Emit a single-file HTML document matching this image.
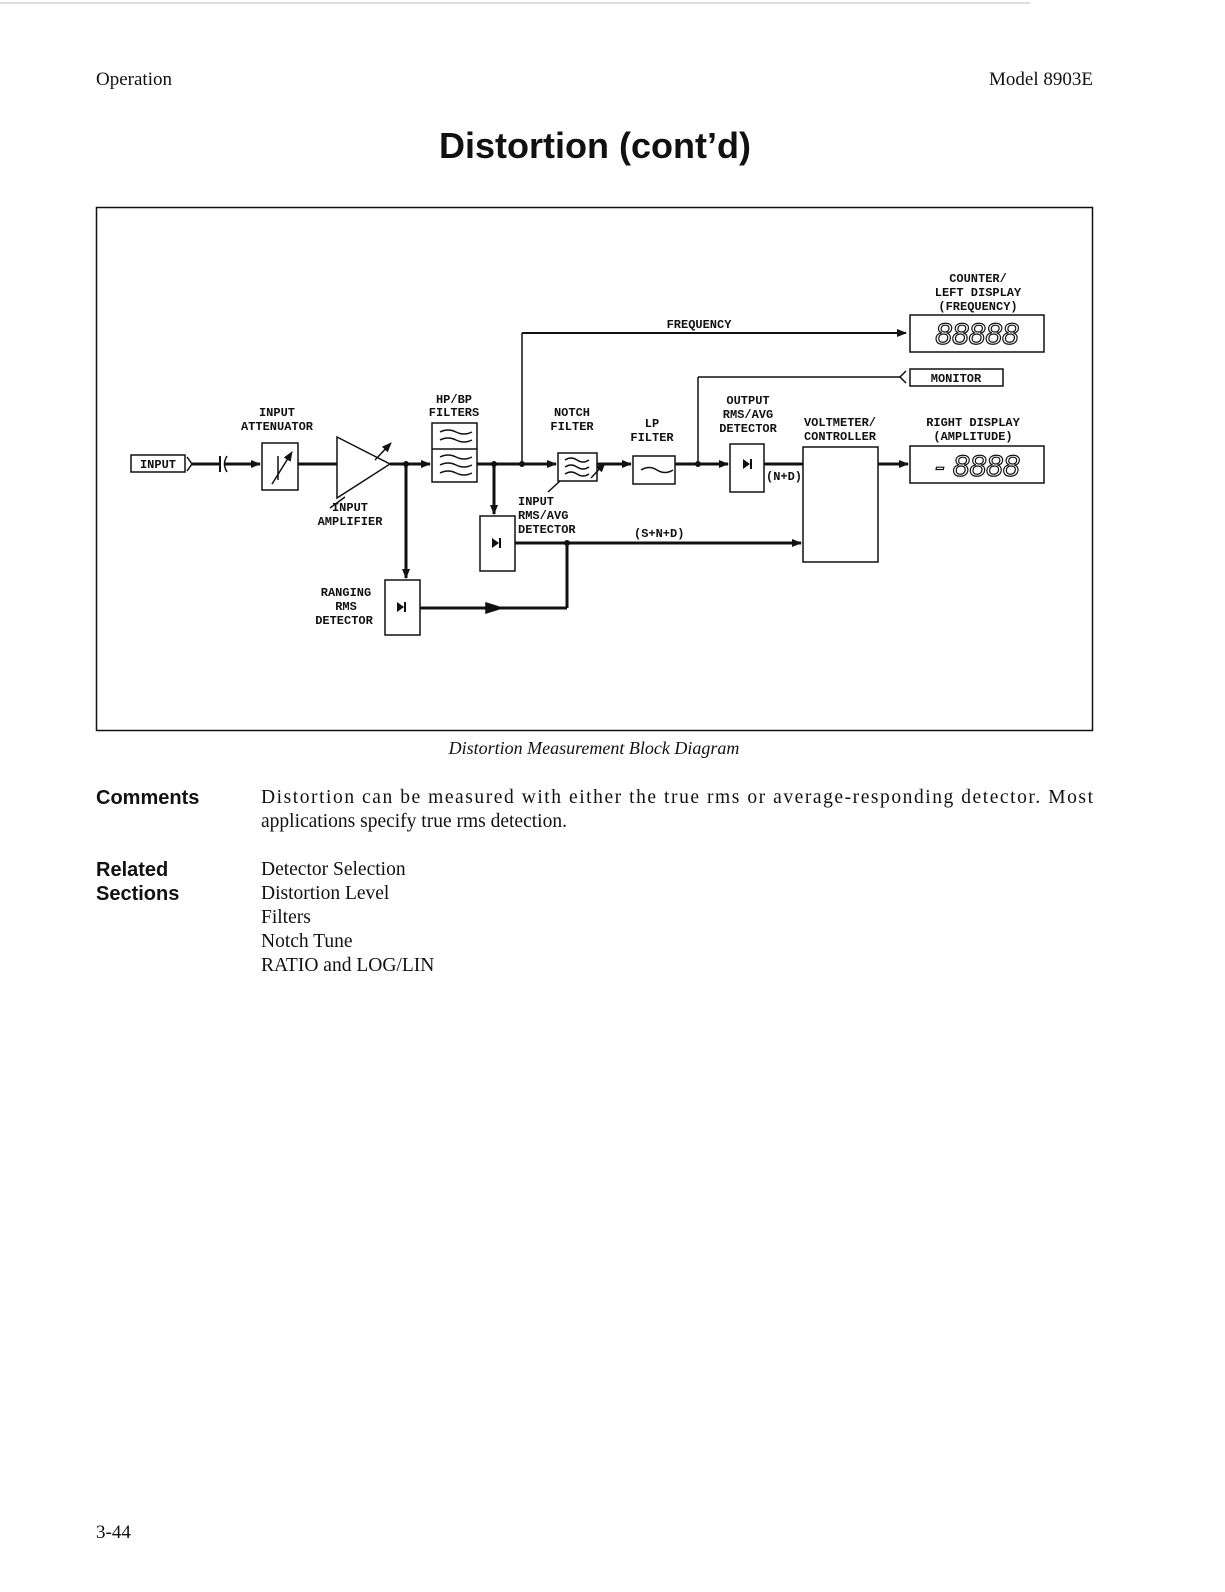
<!DOCTYPE html>
<html><head><meta charset="utf-8"><style>
html,body{margin:0;padding:0;background:#fff;overflow:hidden;width:1225px;height:1592px}
svg{display:block}
.s{font-family:"Liberation Serif",serif;fill:#111}
.d{font-family:"Liberation Mono",monospace;font-weight:bold;font-size:12px;fill:#111}
.b{font-family:"Liberation Sans",sans-serif;font-weight:bold;fill:#111}
</style></head><body>
<svg width="1225" height="1592" viewBox="0 0 1225 1592" xmlns="http://www.w3.org/2000/svg">
<defs><marker id="a" markerWidth="10" markerHeight="8" refX="9" refY="4" orient="auto" markerUnits="userSpaceOnUse"><path d="M0,0 L10,4 L0,8 Z" fill="#111"/></marker></defs>
<line x1="0" y1="3" x2="1030" y2="3" stroke="#bbb" stroke-width="1"/>
<text class="s" x="96" y="85" font-size="19">Operation</text>
<text class="s" x="1093" y="85" font-size="19" text-anchor="end">Model 8903E</text>
<text class="b" x="595" y="158" font-size="36" text-anchor="middle">Distortion (cont’d)</text>
<rect x="96.5" y="207.5" width="996" height="523" fill="none" stroke="#111" stroke-width="1.5"/>
<g stroke="#111" fill="none" stroke-width="1.5">
<rect x="131" y="455" width="54" height="17"/>
<path d="M187,457 L192,464 L187,471"/>
<line x1="192" y1="464" x2="220" y2="464" stroke-width="3"/>
<line x1="220" y1="456" x2="220" y2="472" stroke-width="2"/>
<path d="M227,456 Q222,464 227,472"/>
<line x1="224" y1="464" x2="260" y2="464" stroke-width="3" marker-end="url(#a)"/>
<rect x="262" y="443" width="36" height="47"/>
<line x1="272" y1="484" x2="292" y2="452" marker-end="url(#a)"/>
<line x1="278" y1="456" x2="278" y2="480"/>
<line x1="298" y1="464" x2="337" y2="464" stroke-width="3"/>
<path d="M337,437 L390,464 L337,498 Z"/>
<line x1="375" y1="460" x2="391" y2="443" marker-end="url(#a)"/>
<line x1="330" y1="508" x2="345" y2="497"/>
<line x1="390" y1="464" x2="430" y2="464" stroke-width="3" marker-end="url(#a)"/>
<line x1="406" y1="464" x2="406" y2="578" stroke-width="3" marker-end="url(#a)"/>
<rect x="385" y="580" width="35" height="55"/>
<rect x="432" y="423" width="45" height="59"/>
<line x1="432" y1="449" x2="477" y2="449"/>
<path d="M440,432 q8,-4 16,0 t16,0 M440,440 q8,-4 16,0 t16,0 M440,457 q8,-4 16,0 t16,0 M440,465 q8,-4 16,0 t16,0 M440,473 q8,-4 16,0 t16,0"/>
<line x1="477" y1="464" x2="556" y2="464" stroke-width="3" marker-end="url(#a)"/>
<line x1="494" y1="464" x2="494" y2="514" stroke-width="3" marker-end="url(#a)"/>
<rect x="480" y="516" width="35" height="55"/>
<line x1="522" y1="464" x2="522" y2="333"/>
<line x1="522" y1="333" x2="906" y2="333" stroke-width="2" marker-end="url(#a)"/>
<rect x="558" y="453" width="39" height="28"/>
<path d="M565,460 q6,-4 12,0 t12,0 M565,467 q6,-4 12,0 t12,0 M565,474 q6,-4 12,0 t12,0"/>
<line x1="591" y1="478" x2="605" y2="463" marker-end="url(#a)"/>
<line x1="548" y1="492" x2="560" y2="481"/>
<line x1="597" y1="464" x2="631" y2="464" stroke-width="3" marker-end="url(#a)"/>
<rect x="633" y="456" width="42" height="28"/>
<path d="M641,470 q8,-5 16,0 t16,0"/>
<line x1="675" y1="464" x2="728" y2="464" stroke-width="3" marker-end="url(#a)"/>
<line x1="698" y1="464" x2="698" y2="377"/>
<line x1="698" y1="377" x2="900" y2="377"/>
<path d="M906,371 L900,377 L906,383"/>
<rect x="910" y="369" width="93" height="17"/>
<rect x="730" y="444" width="34" height="48"/>
<line x1="764" y1="464" x2="803" y2="464" stroke-width="3"/>
<rect x="803" y="447" width="75" height="115"/>
<line x1="878" y1="464" x2="908" y2="464" stroke-width="3" marker-end="url(#a)"/>
<rect x="910" y="446" width="134" height="37"/>
<rect x="910" y="315" width="134" height="37"/>
<line x1="515" y1="543" x2="801" y2="543" stroke-width="3" marker-end="url(#a)"/>
<line x1="567" y1="543" x2="567" y2="608" stroke-width="3"/>
<line x1="420" y1="608" x2="567" y2="608" stroke-width="3"/>
<path d="M486,603 L502,608 L486,613 Z" fill="#111"/>
</g>
<g fill="#111">
<circle cx="406" cy="464" r="3"/><circle cx="494" cy="464" r="3"/><circle cx="522" cy="464" r="3"/><circle cx="698" cy="464" r="3"/><circle cx="567" cy="543" r="3"/>
<path d="M743,459 L743,469 L750,464 Z"/><rect x="750" y="459" width="2" height="10"/>
<path d="M492,538 L492,548 L499,543 Z"/><rect x="499" y="538" width="2" height="10"/>
<path d="M397,602 L397,612 L404,607 Z"/><rect x="404" y="602" width="2" height="10"/>
</g>
<g class="d">
<text x="158" y="468" text-anchor="middle">INPUT</text>
<text x="277" y="416" text-anchor="middle">INPUT</text>
<text x="277" y="430" text-anchor="middle">ATTENUATOR</text>
<text x="350" y="511" text-anchor="middle">INPUT</text>
<text x="350" y="525" text-anchor="middle">AMPLIFIER</text>
<text x="454" y="403" text-anchor="middle">HP/BP</text>
<text x="454" y="416" text-anchor="middle">FILTERS</text>
<text x="572" y="416" text-anchor="middle">NOTCH</text>
<text x="572" y="430" text-anchor="middle">FILTER</text>
<text x="652" y="427" text-anchor="middle">LP</text>
<text x="652" y="441" text-anchor="middle">FILTER</text>
<text x="748" y="404" text-anchor="middle">OUTPUT</text>
<text x="748" y="418" text-anchor="middle">RMS/AVG</text>
<text x="748" y="432" text-anchor="middle">DETECTOR</text>
<text x="840" y="426" text-anchor="middle">VOLTMETER/</text>
<text x="840" y="440" text-anchor="middle">CONTROLLER</text>
<text x="973" y="426" text-anchor="middle">RIGHT DISPLAY</text>
<text x="973" y="440" text-anchor="middle">(AMPLITUDE)</text>
<text x="978" y="282" text-anchor="middle">COUNTER/</text>
<text x="978" y="296" text-anchor="middle">LEFT DISPLAY</text>
<text x="978" y="310" text-anchor="middle">(FREQUENCY)</text>
<text x="699" y="328" text-anchor="middle">FREQUENCY</text>
<text x="956" y="382" text-anchor="middle">MONITOR</text>
<text x="518" y="505">INPUT</text>
<text x="518" y="519">RMS/AVG</text>
<text x="518" y="533">DETECTOR</text>
<text x="634" y="537">(S+N+D)</text>
<text x="766" y="480">(N+D)</text>
<text x="346" y="596" text-anchor="middle">RANGING</text>
<text x="346" y="610" text-anchor="middle">RMS</text>
<text x="344" y="624" text-anchor="middle">DETECTOR</text>
</g>
<text x="977" y="344" font-family="Liberation Sans,sans-serif" font-style="italic" font-size="30" text-anchor="middle" fill="none" stroke="#111" stroke-width="1.2">88888</text>
<text x="977" y="476" font-family="Liberation Sans,sans-serif" font-style="italic" font-size="30" text-anchor="middle" fill="none" stroke="#111" stroke-width="1.2">- 8888</text>
<text class="s" x="594" y="754" font-size="18" font-style="italic" text-anchor="middle">Distortion Measurement Block Diagram</text>
<text class="b" x="96" y="804" font-size="20">Comments</text>
<text class="s" x="261" y="803" font-size="19.5" textLength="832" lengthAdjust="spacing">Distortion can be measured with either the true rms or average-responding detector. Most</text>
<text class="s" x="261" y="827" font-size="19.5">applications specify true rms detection.</text>
<text class="b" x="96" y="876" font-size="20">Related</text>
<text class="b" x="96" y="900" font-size="20">Sections</text>
<text class="s" x="261" y="875" font-size="19.5">Detector Selection</text>
<text class="s" x="261" y="899" font-size="19.5">Distortion Level</text>
<text class="s" x="261" y="923" font-size="19.5">Filters</text>
<text class="s" x="261" y="947" font-size="19.5">Notch Tune</text>
<text class="s" x="261" y="971" font-size="19.5">RATIO and LOG/LIN</text>
<text class="s" x="96" y="1538" font-size="19">3-44</text>
</svg>
</body></html>
